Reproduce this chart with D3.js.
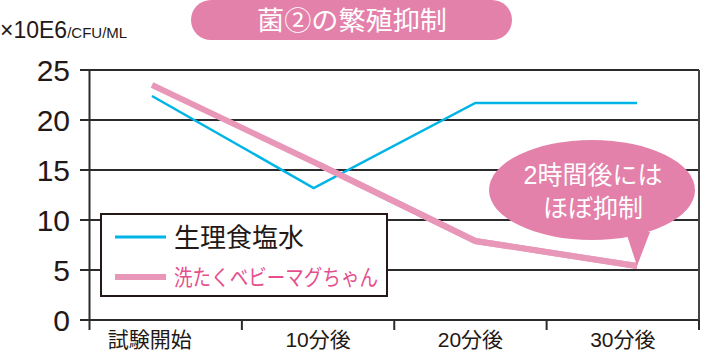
<!DOCTYPE html>
<html><head><meta charset="utf-8">
<script src="https://cdn.jsdelivr.net/npm/d3@7"></script>
<style>
body{margin:0;background:#fff;}
svg{display:block;font-family:"Liberation Sans","Noto Sans CJK JP",sans-serif;}
.jp{font-family:"Noto Sans CJK JP",sans-serif;}
.mix{font-family:"Liberation Sans","Noto Sans CJK JP",sans-serif;}
</style></head>
<body><div id="chart"></div>
<script>
const categories = ["試験開始","10分後","20分後","30分後"];
const seriesNames = ["生理食塩水","洗たくベビーマグちゃん"];
const saline = [22.4, 13.2, 21.7, 21.7];
const babyMag = [23.5, 15.8, 7.9, 5.4];
const yTicks = [0,5,10,15,20,25];
const titleText = "菌②の繁殖抑制";
const unitMain = "×10E6", unitSub = "/CFU/ML";
const calloutLines = ["2時間後には","ほぼ抑制"];

const W=701,H=355;
const svg=d3.select("#chart").append("svg").attr("width",W).attr("height",H);
const x0=89.5, x1=699, yTop=70, yBot=320;
const y=d3.scaleLinear().domain([0,25]).range([yBot,yTop]);
const xb=d3.scaleBand().domain(categories).range([x0,x1]);
const xp=d3.scalePoint().domain(categories).range([152,637]);

svg.append("clipPath").attr("id","clipMid").append("rect").attr("x",320).attr("y",0).attr("width",400).attr("height",H);

// gridlines
svg.append("g").selectAll("line").data(yTicks).join("line")
  .attr("x1",80).attr("x2",x1).attr("y1",d=>y(d)).attr("y2",d=>y(d))
  .attr("stroke","#2b2b2b").attr("stroke-width",2);
svg.append("line").attr("x1",x1).attr("x2",x1).attr("y1",yTop).attr("y2",yBot).attr("stroke","#444").attr("stroke-width",2);
svg.append("line").attr("x1",x0).attr("x2",x0).attr("y1",yTop-1).attr("y2",yBot+10).attr("stroke","#2b2b2b").attr("stroke-width",2);
const bounds=categories.map(c=>xb(c)).concat([x1]);
svg.append("g").selectAll("line").data(bounds.slice(1)).join("line")
  .attr("x1",d=>d).attr("x2",d=>d).attr("y1",yBot).attr("y2",yBot+10)
  .attr("stroke","#2b2b2b").attr("stroke-width",2);
svg.append("g").selectAll("text").data(yTicks).join("text")
  .attr("x",70).attr("y",d=>y(d)+11).attr("text-anchor","end")
  .attr("font-size",30).attr("fill","#231815").text(d=>d);
svg.append("g").selectAll("text").data(categories).join("text")
  .attr("class","mix")
  .attr("x",(d,i)=>xb(d)+xb.bandwidth()/2+(i===0?-16:0)).attr("y",347)
  .attr("text-anchor","middle").attr("font-size",21).attr("fill","#231815").text(d=>d);

// lines
const line=d3.line().x((d,i)=>xp(categories[i])).y(d=>y(d));
svg.append("path").datum(babyMag).attr("d",line).attr("fill","none")
  .attr("stroke","#e897b8").attr("stroke-width",6);
svg.append("path").datum(saline).attr("d",line).attr("fill","none")
  .attr("stroke","#00b4e6").attr("stroke-width",2.5);
svg.append("path").datum(babyMag).attr("d",line).attr("fill","none")
  .attr("stroke","#e897b8").attr("stroke-width",6)
  .attr("clip-path","url(#clipMid)");

// legend
const lg=svg.append("g");
lg.append("rect").attr("x",101).attr("y",214).attr("width",286).attr("height",82)
  .attr("fill","#fff").attr("stroke","#231815").attr("stroke-width",2);
lg.append("line").attr("x1",115).attr("x2",166).attr("y1",237).attr("y2",237).attr("stroke","#00b4e6").attr("stroke-width",3);
lg.append("line").attr("x1",115).attr("x2",166).attr("y1",277).attr("y2",277).attr("stroke","#e897b8").attr("stroke-width",6);
lg.append("text").attr("class","jp").attr("x",174).attr("y",247).attr("font-size",26).attr("fill","#231815").text(seriesNames[0]);
lg.append("text").attr("class","jp").attr("x",174).attr("y",285).attr("font-size",22)
  .attr("textLength",204).attr("lengthAdjust","spacingAndGlyphs").attr("fill","#e4508e").text(seriesNames[1]);

// title pill
svg.append("rect").attr("x",191).attr("y",0).attr("width",321).attr("height",40).attr("rx",20).attr("fill","#e381aa");
svg.append("text").attr("class","jp").attr("x",257).attr("y",30)
  .attr("font-size",26).attr("textLength",190).attr("lengthAdjust","spacingAndGlyphs")
  .attr("fill","#fff").text(titleText);

// unit label
const ut=svg.append("text").attr("x",0).attr("y",38).attr("fill","#231815");
ut.append("tspan").attr("font-size",23).text(unitMain);
ut.append("tspan").attr("font-size",15).text(unitSub);

// callout
const cg=svg.append("g");
cg.append("path").attr("d",`M626,232 L650,232 L${xp(categories[3])},${y(babyMag[3])} Z`).attr("fill","#e381aa");
cg.append("ellipse").attr("cx",592).attr("cy",190).attr("rx",103).attr("ry",50).attr("fill","#e381aa");
cg.selectAll("text").data(calloutLines).join("text").attr("class","mix")
  .attr("x",593).attr("y",(d,i)=>184+i*33).attr("text-anchor","middle")
  .attr("font-size",25).attr("fill","#fff").text(d=>d);
</script></body></html>
